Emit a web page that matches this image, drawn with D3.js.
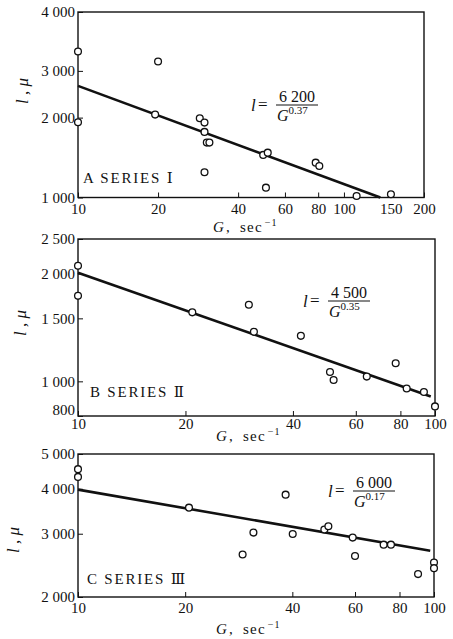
<!DOCTYPE html>
<html><head><meta charset="utf-8">
<script src="https://cdn.jsdelivr.net/npm/d3@7"></script>
<style>
html,body{margin:0;padding:0;background:#fff;}
svg{display:block;}
text{font-family:"Liberation Serif","DejaVu Serif",serif;fill:#111;}
</style></head>
<body>
<svg id="chart" width="453" height="639"></svg>
<script>
// ---------- data ----------
// Panel A (Series I)
const gA = [10, 10, 20.0, 19.5, 28.7, 29.9, 29.9, 30.5, 31.2, 29.9, 49.7, 51.7, 50.9, 78.3, 80.8, 111.6, 150.2];
const lA = [3549, 1922, 3254, 2053, 1990, 1915, 1767, 1610, 1610, 1245, 1447, 1476, 1089, 1353, 1315, 1013, 1028];
const fitGA = [10, 137];
const fitLA = [2634, 1000];
const xTicksA = [10, 20, 40, 60, 80, 100, 150, 200];
const yTicksA = [1000, 2000, 3000, 5000];
const yTickLabelsA = ["1 000", "2 000", "3 000", "4 000"]; // top label as printed in the original

// Panel B (Series II)
const gB = [10, 10, 20.9, 30.1, 31.1, 42.1, 50.8, 52.0, 64.4, 77.6, 83.3, 93.1, 100];
const lB = [2105, 1734, 1559, 1638, 1375, 1340, 1062, 1009, 1031, 1123, 955, 934, 851];
const fitGB = [10, 97.3];
const fitLB = [2013, 907];
const xTicksB = [10, 20, 40, 60, 80, 100];
const yTicksB = [800, 1000, 1500, 2000, 2500];
const yTickLabelsB = ["800", "1 000", "1 500", "2 000", "2 500"];

// Panel C (Series III)
const gC = [10, 10, 20.5, 29.0, 31.1, 38.3, 40.1, 49.2, 50.5, 59.1, 60.0, 72.2, 75.7, 90.2, 100, 100];
const lC = [4537, 4318, 3545, 2627, 3022, 3854, 2995, 3082, 3148, 2926, 2600, 2797, 2797, 2316, 2494, 2406];
const fitGC = [10, 97.6];
const fitLC = [3980, 2690];
const xTicksC = [10, 20, 40, 60, 80, 100];
const yTicksC = [2000, 3000, 4000, 5000];
const yTickLabelsC = ["2 000", "3 000", "4 000", "5 000"];

const seriesLabels = ["A SERIES Ⅰ", "B SERIES Ⅱ", "C SERIES Ⅲ"];
const numerators = ["6 200", "4 500", "6 000"];
const exponents = ["0.37", "0.35", "0.17"];

// ---------- drawing ----------
const svg = d3.select("#chart");

function drawPanel(p) {
  const x = d3.scaleLog().domain(p.xDomain).range([p.left, p.right]);
  const y = d3.scaleLog().domain(p.yDomain).range([p.bottom, p.top]);
  const g = svg.append("g");

  // frame
  g.append("rect").attr("x", p.left).attr("y", p.top)
    .attr("width", p.right - p.left).attr("height", p.bottom - p.top)
    .attr("fill", "none").attr("stroke", "#111").attr("stroke-width", 1.4);

  // x axis (inward ticks)
  const xAxis = d3.axisBottom(x).tickValues(p.xTicks).tickSize(-5).tickPadding(p.xPad)
    .tickFormat(d3.format("d"));
  const xa = g.append("g").attr("transform", `translate(0,${p.bottom})`).call(xAxis);
  xa.select(".domain").remove();
  xa.selectAll("line").attr("stroke", "#111").attr("stroke-width", 1);
  xa.selectAll("text").attr("font-size", 15).attr("fill", "#111")
    .style("font-family", '"Liberation Serif",serif');

  // y axis (inward ticks)
  const yAxis = d3.axisLeft(y).tickValues(p.yTicks).tickSize(-5).tickPadding(3)
    .tickFormat((d, i) => p.yLabels[i]);
  const ya = g.append("g").attr("transform", `translate(${p.left},0)`).call(yAxis);
  ya.select(".domain").remove();
  ya.selectAll("line").attr("stroke", "#111").attr("stroke-width", 1);
  ya.selectAll("text").attr("font-size", 15).attr("fill", "#111")
    .style("font-family", '"Liberation Serif",serif');
  // lift the lowest label a little, as printed, so it clears the x labels
  ya.selectAll("text").filter((d, i) => i === 0).attr("y", -(p.lowLift || 0));

  // fit line
  const fit = p.fitG.map((v, i) => [v, p.fitL[i]]);
  g.append("path").datum(fit)
    .attr("d", d3.line().x(d => x(d[0])).y(d => y(d[1])))
    .attr("stroke", "#111").attr("stroke-width", 2.6).attr("fill", "none");

  // points
  const pts = p.g.map((v, i) => [v, p.l[i]]);
  g.selectAll("circle.pt").data(pts).join("circle")
    .attr("class", "pt")
    .attr("cx", d => x(d[0])).attr("cy", d => y(d[1])).attr("r", 3.4)
    .attr("fill", "#fff").attr("stroke", "#111").attr("stroke-width", 1.3);

  // series label
  g.append("text").attr("x", p.labX).attr("y", p.labY)
    .attr("font-size", 15).attr("letter-spacing", 1.8)
    .text(p.label);

  // y axis title
  g.append("text")
    .attr("transform", `translate(${p.ytX},${p.ytY}) rotate(-90)`)
    .attr("text-anchor", "middle").attr("font-size", 17).attr("font-style", "italic")
    .text("l , μ");

  // x axis title
  const xt = g.append("text").attr("x", p.xtX).attr("y", p.xtY).attr("font-size", 15)
    .attr("letter-spacing", 1.2);
  xt.append("tspan").attr("font-style", "italic").text("G");
  xt.append("tspan").attr("dx", 1).text(",");
  xt.append("tspan").attr("dx", 9).text("sec");
  xt.append("tspan").attr("font-size", 10).attr("dx", 2).attr("dy", -6).text("−1");

  // formula
  const fx = p.fX, fy = p.fY; // fy = fraction bar y
  g.append("text").attr("x", fx).attr("y", fy + 6).attr("font-size", 17)
    .attr("font-style", "italic").text("l");
  g.append("text").attr("x", fx + 7).attr("y", fy + 5).attr("font-size", 17).text("=");
  const nx = fx + 25;
  g.append("text").attr("x", nx + 21).attr("y", fy - 3).attr("text-anchor", "middle")
    .attr("font-size", 16).text(p.num);
  g.append("line").attr("x1", nx).attr("x2", nx + 42).attr("y1", fy).attr("y2", fy)
    .attr("stroke", "#111").attr("stroke-width", 1);
  const den = g.append("text").attr("x", nx + 1).attr("y", fy + 16).attr("font-size", 16);
  den.append("tspan").attr("font-style", "italic").text("G");
  den.append("tspan").attr("font-size", 11).attr("dy", -7).text(p.exp);
}

drawPanel({
  xDomain: [10, 200], yDomain: [1000, 5000],
  left: 78, right: 424, top: 12, bottom: 197.5, xPad: 6, lowLift: 0,
  xTicks: xTicksA, yTicks: yTicksA, yLabels: yTickLabelsA,
  g: gA, l: lA, fitG: fitGA, fitL: fitLA,
  label: seriesLabels[0], labX: 83, labY: 183,
  ytX: 28, ytY: 91, xtX: 213, xtY: 232,
  fX: 251, fY: 105, num: numerators[0], exp: exponents[0]
});
drawPanel({
  xDomain: [10, 100], yDomain: [800, 2500],
  left: 78, right: 435, top: 239, bottom: 416, xPad: 2, lowLift: 6,
  xTicks: xTicksB, yTicks: yTicksB, yLabels: yTickLabelsB,
  g: gB, l: lB, fitG: fitGB, fitL: fitLB,
  label: seriesLabels[1], labX: 90, labY: 397,
  ytX: 26, ytY: 323, xtX: 216, xtY: 441,
  fX: 303, fY: 301, num: numerators[1], exp: exponents[1]
});
drawPanel({
  xDomain: [10, 100], yDomain: [2000, 5000],
  left: 78, right: 434, top: 454, bottom: 597, xPad: 5, lowLift: 0,
  xTicks: xTicksC, yTicks: yTicksC, yLabels: yTickLabelsC,
  g: gC, l: lC, fitG: fitGC, fitL: fitLC,
  label: seriesLabels[2], labX: 87, labY: 584,
  ytX: 19, ytY: 540, xtX: 216, xtY: 634,
  fX: 328, fY: 491, num: numerators[2], exp: exponents[2]
});
</script>
</body></html>
